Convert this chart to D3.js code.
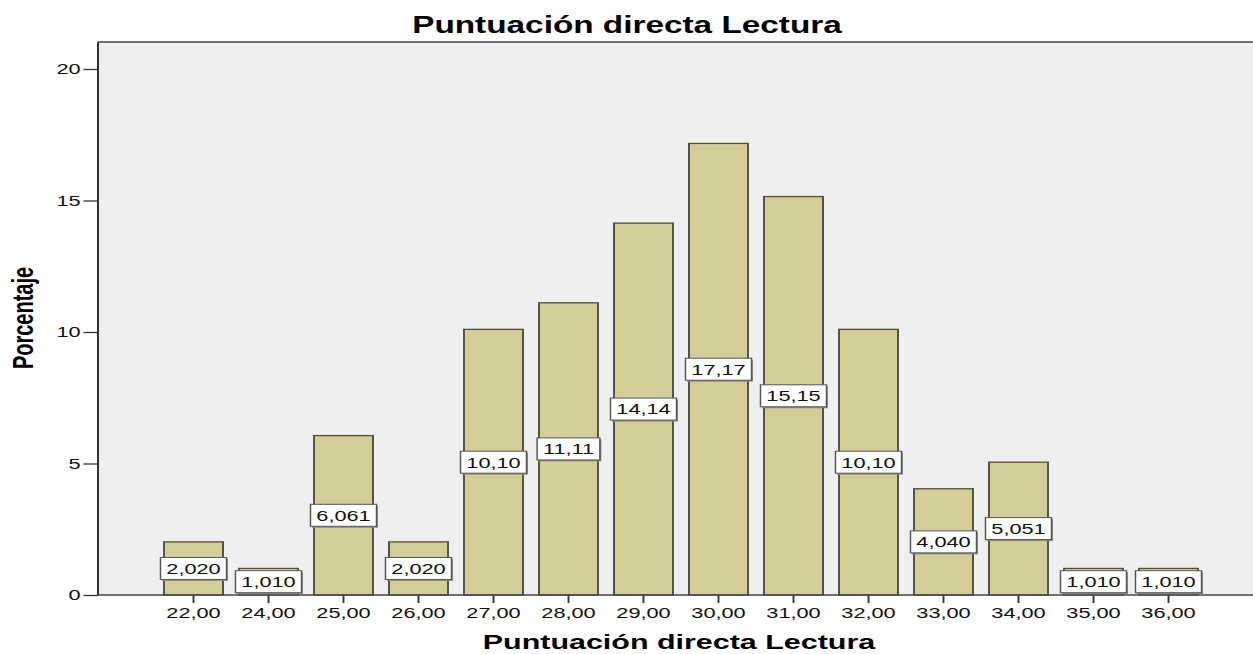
<!DOCTYPE html>
<html>
<head>
<meta charset="utf-8">
<script src="https://cdn.jsdelivr.net/npm/d3@7"></script>
<style>
  html, body { margin: 0; padding: 0; background: #fff; }
  text { font-family: "Liberation Sans", Arial, sans-serif; }
</style>
</head>
<body>
<div id="chart"></div>
<script>
// data
var categories = ["22,00", "24,00", "25,00", "26,00", "27,00", "28,00", "29,00",
                  "30,00", "31,00", "32,00", "33,00", "34,00", "35,00", "36,00"];
var percentages = [2.020, 1.010, 6.061, 2.020, 10.10, 11.11, 14.14,
                   17.17, 15.15, 10.10, 4.040, 5.051, 1.010, 1.010];
var yTicks = [0, 5, 10, 15, 20];

// page size, the whole picture is stretched sideways
var W = 1253, H = 654;
var sx = 1.45;
var lw = W / sx;   // logical width

var plotL = 98 / sx, plotR = lw, plotT = 42, plotB = 595;

var svg = d3.select("#chart").append("svg")
    .attr("width", W)
    .attr("height", H);

var g = svg.append("g").attr("transform", "scale(" + sx + ",1)");

// scales
var x = d3.scaleBand()
    .domain(categories)
    .range([156 / sx, 1206 / sx])
    .paddingInner(0.213)
    .paddingOuter(0.1065);

var y = d3.scaleLinear()
    .domain([0, 21])
    .range([plotB, plotB - 21 * 26.3]);

var fmt = function(v) { return d3.format(".4r")(v).replace(".", ","); };

// plot background
g.append("rect")
    .attr("x", plotL).attr("y", plotT)
    .attr("width", plotR - plotL).attr("height", plotB - plotT)
    .attr("fill", "#efefef");

g.append("line")
    .attr("x1", plotL).attr("x2", plotR)
    .attr("y1", plotT).attr("y2", plotT)
    .attr("stroke", "#707070").attr("stroke-width", 2);

// bars
g.selectAll(".bar")
    .data(percentages)
    .enter().append("rect")
      .attr("class", "bar")
      .attr("x", function(d, i) { return x(categories[i]); })
      .attr("y", function(d) { return y(d); })
      .attr("width", x.bandwidth())
      .attr("height", function(d) { return y(0) - y(d); })
      .attr("fill", "#d3cd97")
      .attr("stroke", "#4d4d40")
      .attr("stroke-width", 1.3);

// axes
var yAxis = g.append("g")
    .attr("transform", "translate(" + plotL + ",0)")
    .call(d3.axisLeft(y).tickValues(yTicks).tickSize(10).tickPadding(2));
yAxis.select(".domain").remove();
yAxis.selectAll("line").attr("stroke", "#333").attr("stroke-width", 1.3);
yAxis.selectAll("text")
    .attr("font-size", 15)
    .attr("font-family", "Liberation Sans, Arial, sans-serif")
    .attr("fill", "#111");

var xAxis = g.append("g")
    .attr("transform", "translate(0," + plotB + ")")
    .call(d3.axisBottom(x).tickSize(8).tickPadding(4));
xAxis.select(".domain").remove();
xAxis.selectAll("line").attr("stroke", "#333").attr("stroke-width", 1.3);
xAxis.selectAll("text")
    .attr("font-size", 15)
    .attr("font-family", "Liberation Sans, Arial, sans-serif")
    .attr("fill", "#111");

g.append("line")
    .attr("x1", plotL).attr("x2", plotL)
    .attr("y1", plotT).attr("y2", plotB)
    .attr("stroke", "#333").attr("stroke-width", 1.4);
g.append("line")
    .attr("x1", plotL).attr("x2", plotR)
    .attr("y1", plotB).attr("y2", plotB)
    .attr("stroke", "#444").attr("stroke-width", 1.6);

// value labels in the middle of each bar
var lab = g.selectAll(".lab")
    .data(percentages)
    .enter().append("g")
      .attr("class", "lab")
      .attr("transform", function(d, i) {
        return "translate(" + (x(categories[i]) + x.bandwidth() / 2) + "," + y(d / 2) + ")";
      });

lab.append("rect")
    .attr("class", "shadow")
    .attr("fill", "#8a8a8a");
lab.append("rect")
    .attr("class", "box")
    .attr("fill", "#fff")
    .attr("stroke", "#555")
    .attr("stroke-width", 1);
lab.append("text")
    .attr("text-anchor", "middle")
    .attr("dy", "0.36em")
    .attr("font-size", 15)
    .attr("fill", "#111")
    .text(function(d) { return fmt(d); });

lab.each(function() {
  var t = d3.select(this).select("text");
  var tw = t.node().getComputedTextLength() + 8;
  var th = 22;
  d3.select(this).select(".box")
      .attr("x", -tw / 2).attr("y", -th / 2)
      .attr("width", tw).attr("height", th);
  d3.select(this).select(".shadow")
      .attr("x", -tw / 2 + 1).attr("y", -th / 2 + 1.5)
      .attr("width", tw).attr("height", th);
});

// titles
g.append("text")
    .attr("x", 627 / sx).attr("y", 33)
    .attr("text-anchor", "middle")
    .attr("font-size", 23)
    .attr("font-weight", "bold")
    .text("Puntuación directa Lectura");

g.append("text")
    .attr("x", 679 / sx).attr("y", 649)
    .attr("text-anchor", "middle")
    .attr("font-size", 21)
    .attr("font-weight", "bold")
    .text("Puntuación directa Lectura");

g.append("text")
    .attr("transform", "translate(" + (33 / sx) + ",318) rotate(-90)")
    .attr("text-anchor", "middle")
    .attr("font-size", 20)
    .attr("font-weight", "bold")
    .text("Porcentaje");
</script>
</body>
</html>
